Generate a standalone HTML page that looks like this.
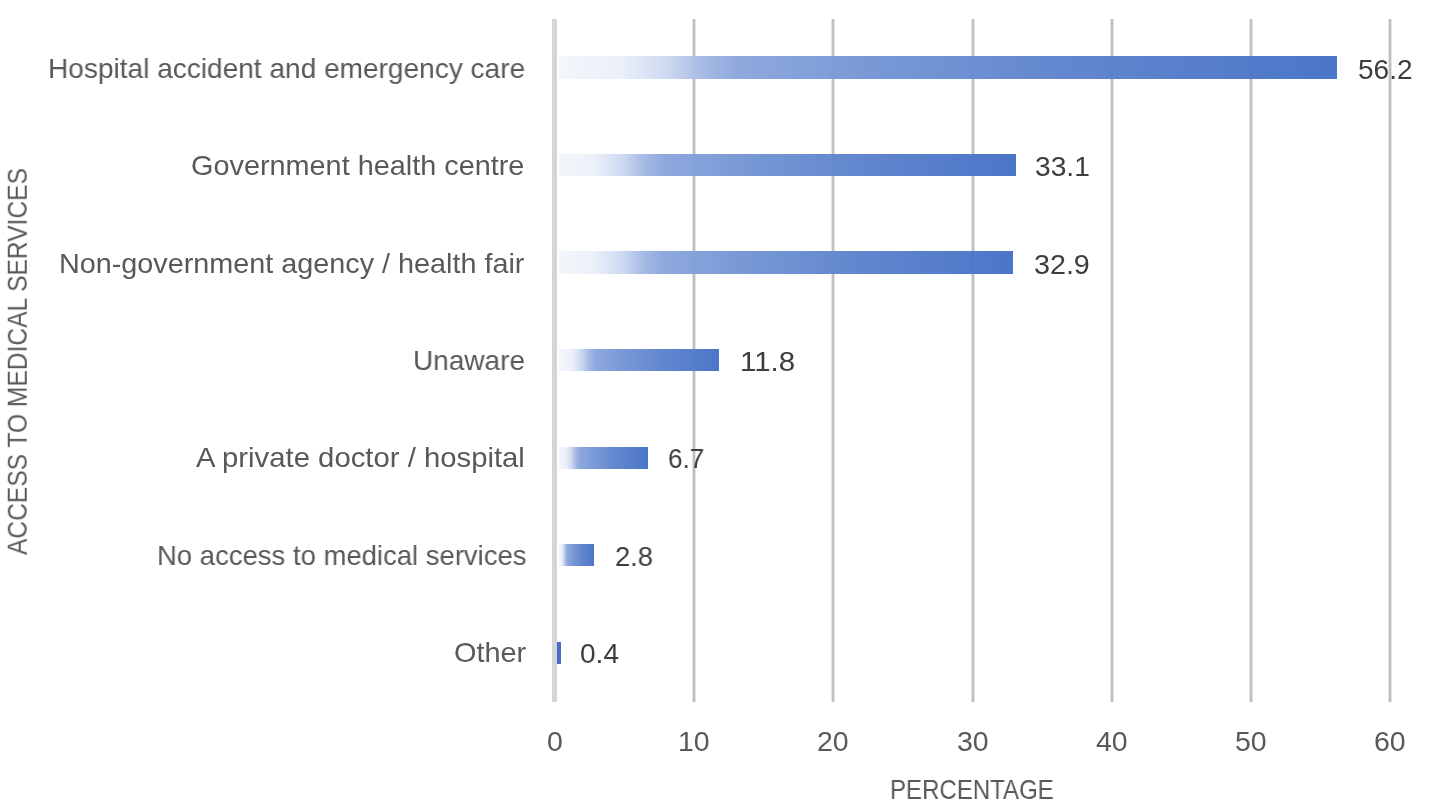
<!DOCTYPE html>
<html><head><meta charset="utf-8"><style>
html,body{margin:0;padding:0;background:#fff;}
body{width:1429px;height:807px;position:relative;overflow:hidden;font-family:"Liberation Sans",sans-serif;}
.g{position:absolute;top:18.6px;height:683.0px;width:2px;background:#c0c0c0;border-left:1px solid #e4e4e4;border-right:1px solid #e4e4e4;}
.ax{position:absolute;top:18.6px;height:683.0px;width:5px;background:#d5d5d5;left:552.4px;}
.bar{position:absolute;height:22.4px;opacity:0.96;background:linear-gradient(90deg,#f3f6fb 0%,#eaeff8 8%,#cbd7f0 14%,#a3b8e4 18.5%,#8aa5dc 23%,#7395d4 40%,#5c82cc 65%,#4370c6 100%);}
.t{position:absolute;white-space:nowrap;will-change:transform;line-height:40px;transform-origin:0 0;}
.lab{color:#595959;}
.val{color:#3d3d3d;}
.tick{color:#595959;}
.ttl{color:#595959;}
</style></head><body>

<div class="g" style="left:692.2px"></div>
<div class="g" style="left:831.3px"></div>
<div class="g" style="left:970.5px"></div>
<div class="g" style="left:1109.7px"></div>
<div class="g" style="left:1248.8px"></div>
<div class="g" style="left:1388.0px"></div>
<div class="bar" style="left:558.6px;top:56.2px;width:778.5px;"></div>
<div class="bar" style="left:558.6px;top:153.8px;width:457.1px;"></div>
<div class="bar" style="left:558.6px;top:251.3px;width:454.3px;"></div>
<div class="bar" style="left:558.6px;top:348.9px;width:160.6px;"></div>
<div class="bar" style="left:558.6px;top:446.5px;width:89.6px;"></div>
<div class="bar" style="left:558.6px;top:544.0px;width:35.4px;"></div>
<div class="bar" style="left:555.0px;top:641.6px;width:5.6px;background:#4a6cc4;opacity:1;"></div>
<div class="ax"></div>
<div class="t lab" style="left:47.80px;top:48.02px;font-size:28.50px;transform:scaleX(0.9842);">Hospital accident and emergency care</div>
<div class="t lab" style="left:190.50px;top:145.37px;font-size:28.50px;transform:scaleX(1.0118);">Government health centre</div>
<div class="t lab" style="left:59.20px;top:242.72px;font-size:28.50px;transform:scaleX(1.0095);">Non-government agency / health fair</div>
<div class="t lab" style="left:412.90px;top:340.07px;font-size:28.50px;transform:scaleX(0.9820);">Unaware</div>
<div class="t lab" style="left:196.00px;top:437.42px;font-size:28.50px;transform:scaleX(1.0277);">A private doctor / hospital</div>
<div class="t lab" style="left:156.80px;top:534.77px;font-size:28.50px;transform:scaleX(0.9640);">No access to medical services</div>
<div class="t lab" style="left:454.30px;top:632.12px;font-size:28.50px;transform:scaleX(1.0129);">Other</div>
<div class="t val" style="left:1358.40px;top:49.80px;font-size:28.00px;transform:scaleX(0.9947);">56.2</div>
<div class="t val" style="left:1034.80px;top:147.15px;font-size:28.00px;transform:scaleX(1.0057);">33.1</div>
<div class="t val" style="left:1033.50px;top:244.50px;font-size:28.00px;transform:scaleX(1.0241);">32.9</div>
<div class="t val" style="left:739.60px;top:341.85px;font-size:28.00px;transform:scaleX(1.0531);">11.8</div>
<div class="t val" style="left:668.30px;top:439.20px;font-size:28.00px;transform:scaleX(0.9327);">6.7</div>
<div class="t val" style="left:615.30px;top:536.55px;font-size:28.00px;transform:scaleX(0.9789);">2.8</div>
<div class="t val" style="left:579.50px;top:633.90px;font-size:28.00px;transform:scaleX(1.0021);">0.4</div>
<div class="t tick" style="left:547.08px;top:721.42px;font-size:28.50px;">0</div>
<div class="t tick" style="left:678.32px;top:721.42px;font-size:28.50px;">10</div>
<div class="t tick" style="left:817.49px;top:721.42px;font-size:28.50px;">20</div>
<div class="t tick" style="left:956.66px;top:721.42px;font-size:28.50px;">30</div>
<div class="t tick" style="left:1095.83px;top:721.42px;font-size:28.50px;">40</div>
<div class="t tick" style="left:1235.00px;top:721.42px;font-size:28.50px;">50</div>
<div class="t tick" style="left:1374.17px;top:721.42px;font-size:28.50px;">60</div>
<div class="t ttl" style="left:890.30px;top:769.57px;font-size:27.50px;transform:scaleX(0.8739);">PERCENTAGE</div>
<div class="t ttl" style="left:0.00px;top:0.00px;font-size:27.50px;transform-origin:0 0;transform:translate(-2.23px,555.00px) rotate(-90deg) scaleX(0.8937);">ACCESS TO MEDICAL SERVICES</div>
</body></html>
